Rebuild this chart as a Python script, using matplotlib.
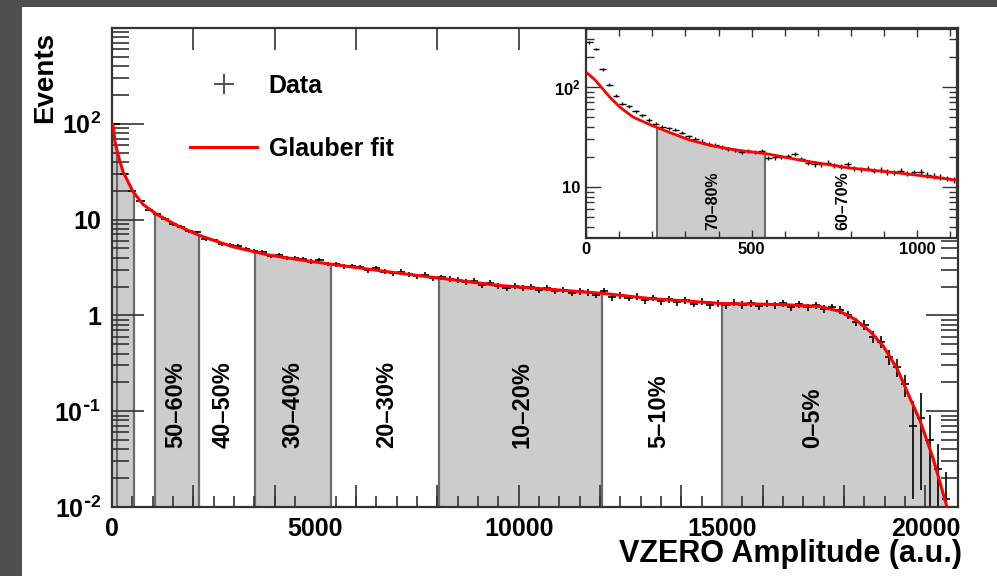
import numpy as np
import matplotlib
matplotlib.use("Agg")
import matplotlib.pyplot as plt
from matplotlib.ticker import (MultipleLocator, FixedLocator, LogLocator,
                               NullFormatter, NullLocator, FixedFormatter)
from matplotlib.patches import Rectangle
from matplotlib.lines import Line2D

plt.rcParams['font.family'] = ['Liberation Sans', 'DejaVu Sans']
plt.rcParams['font.weight'] = 'bold'
plt.rcParams['mathtext.default'] = 'regular'

# ---------------- data ----------------
bin_width = 200
main_counts = [
    100, 30, 20, 15.8, 12.6, 11.5, 10.2, 8.9, 8.4, 7.6,
    7.4, 6.3, 6.1, 5.6, 5.4, 5.3, 4.9, 4.7, 4.6, 4.2,
    4.25, 3.95, 3.95, 3.85, 3.65, 3.75, 3.45, 3.4, 3.25, 3.3,
    3.2, 2.95, 3.1, 2.85, 2.75, 2.85, 2.7, 2.55, 2.65, 2.45,
    2.5, 2.4, 2.35, 2.25, 2.3, 2.1, 2.2, 2.05, 1.93, 2.05,
    1.92, 1.98, 1.85, 1.94, 1.8, 1.84, 1.72, 1.78, 1.74, 1.64,
    1.78, 1.55, 1.62, 1.52, 1.57, 1.45, 1.53, 1.41, 1.48, 1.38,
    1.44, 1.33, 1.39, 1.29, 1.35, 1.27, 1.36, 1.29, 1.35, 1.24,
    1.33, 1.27, 1.34, 1.22, 1.3, 1.21, 1.27, 1.17, 1.22, 1.14,
    1.02, 0.86, 0.8, 0.6, 0.53, 0.37, 0.29, 0.19, 0.07, 0.085,
    0.05, 0.025, 0.012, np.nan]
main_errors = [
    1.0, 0.55, 0.45, 0.4, 0.35, 0.34, 0.32, 0.3, 0.29, 0.28,
    0.27, 0.25, 0.245, 0.237, 0.235, 0.23, 0.22, 0.22, 0.21, 0.205,
    0.205, 0.2, 0.2, 0.195, 0.19, 0.19, 0.19, 0.185, 0.18, 0.18,
    0.18, 0.17, 0.175, 0.17, 0.165, 0.17, 0.165, 0.16, 0.16, 0.155,
    0.16, 0.155, 0.155, 0.15, 0.15, 0.145, 0.15, 0.145, 0.14, 0.145,
    0.14, 0.14, 0.135, 0.14, 0.135, 0.135, 0.13, 0.135, 0.13, 0.13,
    0.13, 0.125, 0.13, 0.12, 0.125, 0.12, 0.12, 0.12, 0.12, 0.12,
    0.12, 0.115, 0.12, 0.115, 0.115, 0.11, 0.115, 0.115, 0.115, 0.11,
    0.115, 0.115, 0.115, 0.11, 0.115, 0.11, 0.115, 0.11, 0.11, 0.11,
    0.1, 0.09, 0.09, 0.08, 0.075, 0.065, 0.06, 0.05, 0.058, 0.07,
    0.042, 0.02, 0.011, np.nan]

fit_x = [25, 74, 148, 271, 516, 762, 1106, 1600, 2164, 2975, 3810, 4623,
         5434, 7080, 9540, 12050, 13230, 15000, 16430, 17400, 17900, 18270,
         18640, 18960, 19300, 19620, 19870, 20190, 20530]
fit_y = [98, 65, 47.5, 31.6, 19.6, 14.4, 11.3, 8.7, 6.8, 5.2, 4.3, 3.8,
         3.4, 2.75, 2.05, 1.7, 1.5, 1.33, 1.3, 1.24, 1.1, 0.91,
         0.68, 0.48, 0.28, 0.137, 0.079, 0.032, 0.01]

inset_bin_width = 20
inset_counts = [
    280, 240, 150, 105, 82, 68, 64, 57, 52, 47,
    43, 40, 38.5, 37.5, 35, 32, 30, 28.5, 27, 26.5,
    25, 24, 23.5, 22.5, 22.8, 22.5, 23, 19.5, 19.8, 20,
    20.5, 21.5, 19, 17.5, 17, 16.8, 17.5, 16.5, 16, 16.8,
    15.5, 15, 15.2, 14.6, 14.8, 14.2, 14.0, 14.5, 13.6, 14.0,
    14.2, 13.2, 13.0, 12.6, 12.2, 11.8]
inset_errors = [
    8, 7, 5, 3.5, 3, 2.5, 2.3, 2.1, 2, 1.9,
    1.8, 1.7, 1.6, 1.6, 1.5, 1.45, 1.4, 1.35, 1.3, 1.3,
    1.25, 1.2, 1.2, 1.15, 1.15, 1.15, 1.15, 1.05, 1.05, 1.05,
    1.05, 1.1, 1.0, 1.0, 1.0, 0.95, 1.0, 0.95, 0.95, 0.95,
    0.9, 0.9, 0.9, 0.9, 0.9, 0.9, 0.9, 0.9, 0.85, 0.9,
    0.9, 0.85, 0.85, 0.85, 0.8, 0.8]
inset_fit_x = [3, 27, 48, 72, 102, 142, 193, 253, 313, 383, 455, 545,
               645, 795, 946, 1120]
inset_fit_y = [138, 118, 98, 79, 63, 50, 42, 35, 29.5, 25.7, 23.4, 21.5,
               18.6, 15.5, 13.8, 11.7]

shaded_bands = [(0, 130), (130, 540), (1057, 2140), (3516, 5385),
                (8040, 12050), (15000, 20530)]
band_edges = [130, 540, 1057, 2140, 3516, 5385, 8040, 12050, 15000]
band_labels = ['50–60%', '40–50%', '30–40%', '20–30%', '10–20%',
               '5–10%', '0–5%']
label_x = [1574, 2729, 4450, 6762, 10081, 13450, 17237]

inset_band = (215, 540)
inset_labels = ['70–80%', '60–70%']
inset_label_x = [383, 775]

main_yticks = [1e-2, 1e-1, 1, 10, 100]
main_yticklabels = ['$10^{\\text{-}2}$', '$10^{\\text{-}1}$', '1', '10',
                    '$10^{2}$']
inset_yticks = [10, 100]
inset_yticklabels = ['10', '$10^{2}$']

# ---------------- figure ----------------
BORDER = '#4f4f4f'
fig = plt.figure(figsize=(9.97, 5.76), dpi=100, facecolor='white')
fig.add_artist(Rectangle((0, 0), 22 / 997, 1, transform=fig.transFigure,
                         facecolor=BORDER, edgecolor='none', zorder=-10))
fig.add_artist(Rectangle((0, 1 - 7 / 576), 1, 7 / 576,
                         transform=fig.transFigure, facecolor=BORDER,
                         edgecolor='none', zorder=-10))

FILL = '#cccccc'
EDGE = '#6a6a6a'
FRAME = '#333333'


def curve(x, fx, fy):
    return 10 ** np.interp(x, fx, np.log10(fy))


ax = fig.add_axes([112 / 997, 1 - 507 / 576, 846 / 997, 479 / 576])
ax.set_yscale('log')
ax.set_xlim(0, 20800)
ax.set_ylim(1e-2, 1e3)
ymin = ax.get_ylim()[0]

fx = np.array(fit_x, float)
fy = np.array(fit_y, float)
for a, b in shaded_bands:
    xs = np.concatenate([[a], fx[(fx > a) & (fx < b)], [b]])
    ax.fill_between(xs, curve(xs, fx, fy), ymin, color=FILL, lw=0, zorder=1)
be = np.array(band_edges, float)
ax.vlines(be, ymin, curve(be, fx, fy), colors=EDGE, lw=1.6, zorder=1.5)

centers = np.arange(len(main_counts)) * bin_width + bin_width / 2
ax.errorbar(centers, main_counts, yerr=main_errors, xerr=bin_width / 2,
            fmt='none', ecolor='black', elinewidth=1.2, capsize=0, zorder=2)
ax.plot(fit_x, fit_y, color='#ff0000', lw=2.2, zorder=3)

for lx, lab in zip(label_x, band_labels):
    ax.text(lx, 0.041, lab, rotation=90, ha='center', va='bottom',
            fontsize=17, fontweight='bold', zorder=4)

ax.xaxis.set_major_locator(FixedLocator([0, 5000, 10000, 15000, 20000]))
ax.xaxis.set_minor_locator(MultipleLocator(500))
ax.yaxis.set_major_locator(FixedLocator(main_yticks))
ax.yaxis.set_major_formatter(FixedFormatter(main_yticklabels))
ax.yaxis.set_minor_locator(LogLocator(base=10, subs=np.arange(2, 10)))
ax.yaxis.set_minor_formatter(NullFormatter())
ax.tick_params(axis='both', which='both', direction='in', top=True,
               right=True, color=FRAME, width=1.2)
ax.tick_params(axis='x', which='major', length=0, pad=7, labelsize=18)
ax.tick_params(axis='x', which='minor', length=8)
ax.tick_params(axis='y', which='major', length=23, pad=8, labelsize=18)
ax.tick_params(axis='y', which='minor', length=12)
for s in ax.spines.values():
    s.set_color(FRAME)
    s.set_linewidth(1.6)

ax2 = ax.twiny()
ax2.set_xlim(ax.get_xlim())
ax2.xaxis.set_major_locator(MultipleLocator(2000))
ax2.xaxis.set_minor_locator(NullLocator())
ax2.tick_params(axis='x', which='major', direction='in', length=16,
                top=True, bottom=True, labeltop=False, labelbottom=False,
                color=FRAME, width=1.2)
for s in ax2.spines.values():
    s.set_visible(False)

ax.set_xlabel('VZERO Amplitude (a.u.)', fontsize=22, fontweight='bold')
ax.xaxis.set_label_coords(1.005, -0.066)
ax.xaxis.label.set_horizontalalignment('right')
ax.set_ylabel('Events', fontsize=20, fontweight='bold')
ax.yaxis.set_label_coords(-0.064, 0.992)
ax.yaxis.label.set_horizontalalignment('right')

h1 = Line2D([], [], ls='none', marker='+', ms=15, mew=1.3, color='#444444')
h2 = Line2D([], [], color='#ff0000', lw=2.2)
ax.legend([h1, h2], ['Data', 'Glauber fit'], loc='upper left',
          bbox_to_anchor=(0.092, 0.905), frameon=False,
          prop={'size': 18, 'weight': 'bold'}, handlelength=2.7,
          handletextpad=0.45, labelspacing=1.56, borderpad=0,
          borderaxespad=0)

# ---------------- inset ----------------
axin = fig.add_axes([586 / 997, 1 - 238 / 576, 371 / 997, 209 / 576])
axin.set_facecolor('white')
axin.set_yscale('log')
axin.set_xlim(0, 1120)
axin.set_ylim(3.09, 380)
iymin = axin.get_ylim()[0]

ifx = np.array(inset_fit_x, float)
ify = np.array(inset_fit_y, float)
a, b = inset_band
xs = np.concatenate([[a], ifx[(ifx > a) & (ifx < b)], [b]])
axin.fill_between(xs, curve(xs, ifx, ify), iymin, color=FILL, lw=0, zorder=1)
ie = np.array(inset_band, float)
axin.vlines(ie, iymin, curve(ie, ifx, ify), colors=EDGE, lw=1.5, zorder=1.5)

icenters = np.arange(len(inset_counts)) * inset_bin_width + inset_bin_width / 2
axin.errorbar(icenters, inset_counts, yerr=inset_errors,
              xerr=inset_bin_width / 2, fmt='none', ecolor='black',
              elinewidth=1.0, capsize=0, zorder=2)
axin.plot(inset_fit_x, inset_fit_y, color='#ff0000', lw=2.0, zorder=3)

for lx, lab in zip(inset_label_x, inset_labels):
    axin.text(lx, 3.7, lab, rotation=90, ha='center', va='bottom',
              fontsize=11.5, fontweight='bold', zorder=4)

axin.xaxis.set_major_locator(FixedLocator([0, 500, 1000]))
axin.xaxis.set_minor_locator(MultipleLocator(100))
axin.yaxis.set_major_locator(FixedLocator(inset_yticks))
axin.yaxis.set_major_formatter(FixedFormatter(inset_yticklabels))
axin.yaxis.set_minor_locator(LogLocator(base=10, subs=np.arange(2, 10)))
axin.yaxis.set_minor_formatter(NullFormatter())
axin.tick_params(axis='both', which='both', direction='in', top=True,
                 right=True, color=FRAME, width=1.0, labelsize=12)
axin.tick_params(axis='x', which='major', length=6, pad=3)
axin.tick_params(axis='x', which='minor', length=5)
axin.tick_params(axis='y', which='major', length=11, pad=4)
axin.tick_params(axis='y', which='minor', length=6)
for s in axin.spines.values():
    s.set_color(FRAME)
    s.set_linewidth(1.6)

fig.savefig('out.png', dpi=100, facecolor=fig.get_facecolor())
